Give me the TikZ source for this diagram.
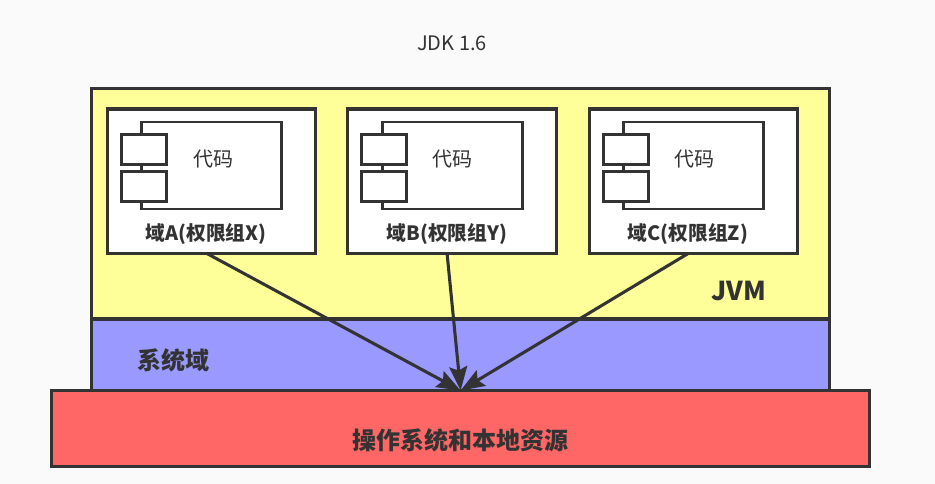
\documentclass[tikz,border=0pt]{standalone}
\usepackage{fontspec}
\setmainfont{Noto Sans CJK SC}
\usetikzlibrary{arrows.meta,calc}
\definecolor{ink}{HTML}{333333}
\definecolor{pagebg}{HTML}{FAFAFA}
\definecolor{jvmfill}{HTML}{FFFF99}
\definecolor{sysfill}{HTML}{9999FF}
\definecolor{osfill}{HTML}{FF6666}
\tikzset{
  px/.style={x=0.75pt,y=-0.75pt},
  boxpx/.style={draw=ink,line width=2.4pt,inner sep=0pt,outer sep=0pt,anchor=north west},
  thinpx/.style={draw=ink,line width=2.2pt,inner sep=0pt,outer sep=0pt,anchor=north west},
  lab/.style={text=ink,inner sep=0pt,font=\fontsize{15pt}{18pt}\selectfont},
  blab/.style={text=ink,inner sep=0pt,font=\fontsize{14.8pt}{18pt}\selectfont\bfseries},
  hlab/.style={text=ink,inner sep=0pt,font=\fontsize{18pt}{22pt}\selectfont\bfseries},
  jlab/.style={text=ink,inner sep=0pt,font=\fontsize{19.5pt}{23pt}\selectfont\bfseries},
  flow/.style={draw=ink,line width=2.3pt,-{Stealth[length=18pt,width=13.5pt,inset=3pt]},shorten >=0pt},
}
\newcommand{\pxbox}[7]{% name, style, fill, x1, y1, x2, y2
  \pgfmathsetmacro{\wpx}{((#6)-(#4))*0.75}
  \pgfmathsetmacro{\hpx}{((#7)-(#5))*0.75}
  \node[#2,fill=#3,minimum width=\wpx pt,minimum height=\hpx pt] (#1) at (#4,#5) {};
}
\newcommand{\codeunit}[2]{% prefix, x offset
  \pxbox{#1body}{thinpx}{white}{141.8+#2}{122}{281.8+#2}{209}
  \pxbox{#1taba}{thinpx}{white}{121.3+#2}{134.7}{166.2+#2}{164.7}
  \pxbox{#1tabb}{thinpx}{white}{121.3+#2}{171.7}{166.2+#2}{201.7}
}
\begin{document}
\begin{tikzpicture}[px]
\useasboundingbox (0,0) rectangle (935,484);
\fill[pagebg] (0,0) rectangle (935,484);
\node[inner sep=0pt,text=ink,font=\fontsize{15pt}{18pt}\selectfont] (title) at (452,43) {JDK 1.6};
\pxbox{jvm}{boxpx}{jvmfill}{91.3}{88.5}{829.5}{319}
\pxbox{sys}{boxpx}{sysfill}{91.3}{319}{829.5}{390.5}
\pxbox{os}{boxpx}{osfill}{51.7}{390.5}{869.5}{466.7}
\pxbox{doma}{boxpx}{white}{107.8}{109}{315.7}{253.3}
\pxbox{domb}{boxpx}{white}{347.8}{109}{556.7}{253.3}
\pxbox{domc}{boxpx}{white}{589.6}{109}{797.7}{253.3}
\codeunit{a}{0}
\codeunit{b}{240.5}
\codeunit{c}{482}
\node[lab] (codea) at (213,159) {代码};
\node[lab] (codeb) at (452.5,159) {代码};
\node[lab] (codec) at (694,159) {代码};
\node[blab] (laba) at (206,234) {域A(权限组X)};
\node[blab] (labb) at (447,234) {域B(权限组Y)};
\node[blab] (labc) at (688,234) {域C(权限组Z)};
\node[jlab] (jvmlab) at (738.5,291) {JVM};
\node[hlab] (syslab) at (173,360) {系统域};
\node[hlab] (oslab) at (460.5,440) {操作系统和本地资源};
\draw[flow] ([xshift=-3.9pt]doma.south) -- (os.north);
\draw[flow] ([xshift=-3.9pt]domb.south) -- (os.north);
\draw[flow] ([xshift=-3.9pt]domc.south) -- (os.north);
\end{tikzpicture}
\end{document}
